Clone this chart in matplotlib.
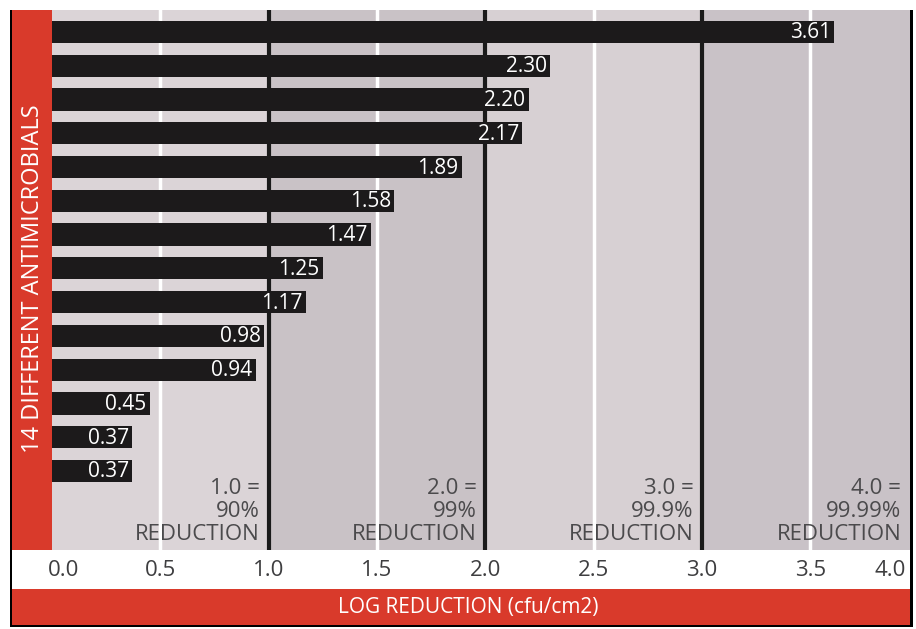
import matplotlib
matplotlib.use("Agg")
import matplotlib.pyplot as plt
from matplotlib.patches import Rectangle
import matplotlib.transforms as mtransforms

plt.rcParams["font.family"] = ["Open Sans", "DejaVu Sans"]

values = [3.61, 2.30, 2.20, 2.17, 1.89, 1.58, 1.47, 1.25, 1.17, 0.98, 0.94, 0.45, 0.37, 0.37]
ticks = [0.0, 0.5, 1.0, 1.5, 2.0, 2.5, 3.0, 3.5, 4.0]
notes = ["1.0 =\n90%\nREDUCTION", "2.0 =\n99%\nREDUCTION",
         "3.0 =\n99.9%\nREDUCTION", "4.0 =\n99.99%\nREDUCTION"]
note_x = [1.0, 2.0, 3.0, 3.96]

W, H = 916, 629
red = "#d93a2b"
fig = plt.figure(figsize=(W / 100, H / 100), dpi=100)
fig.patch.set_facecolor("white")

def fx(px):
    return px / W

def fy(py):
    return 1 - py / H

# frame pieces
fig.add_artist(Rectangle((fx(10), fy(627)), fx(903), (617) / H, facecolor="black",
                         edgecolor="none", transform=fig.transFigure, zorder=0))
fig.add_artist(Rectangle((fx(12), fy(550)), fx(40), 540 / H, facecolor=red,
                         edgecolor="none", transform=fig.transFigure, zorder=1))
fig.add_artist(Rectangle((fx(12), fy(589)), fx(898), 39 / H, facecolor="white",
                         edgecolor="none", transform=fig.transFigure, zorder=1))
fig.add_artist(Rectangle((fx(12), fy(625)), fx(898), 36 / H, facecolor=red,
                         edgecolor="none", transform=fig.transFigure, zorder=1))

ax = fig.add_axes([fx(52), fy(550), fx(858), 540 / H])
ax.set_zorder(2)
xmax = 3.96
ax.set_xlim(0, xmax)
n = len(values)
ax.set_ylim(n + 1.34, -0.65)

# shaded bands
band_cols = ["#dbd4d7", "#c9c2c6", "#d7d0d3", "#c9c2c7"]
for i, c in enumerate(band_cols):
    ax.axvspan(i, i + 1, color=c, lw=0, zorder=0)
for t in [0.5, 1.5, 2.5, 3.5]:
    ax.axvline(t, color="white", lw=2.5, zorder=1)
for t in [1.0, 2.0, 3.0]:
    ax.axvline(t, color="#1a1a1a", lw=3, zorder=1)

ypos = list(range(n))
ax.barh(ypos, values, height=0.66, color="#1c1a1b", zorder=3)
for y, v in zip(ypos, values):
    ax.text(v - 0.015, y + 0.03, f"{v:.2f}", ha="right", va="center",
            color="white", fontsize=15, zorder=4)

ntrans = mtransforms.blended_transform_factory(ax.transData, ax.transAxes)
for x, s in zip(note_x, notes):
    ax.text(x - 0.04, 0.018, s, ha="right", va="baseline", color="#4b4a4c",
            fontsize=16, linespacing=1.12, zorder=2, transform=ntrans)

ax.set_xticks([])
ax.set_yticks([])
for sp in ax.spines.values():
    sp.set_visible(False)

trans = mtransforms.blended_transform_factory(ax.transData, fig.transFigure)
for t in ticks:
    if t == 0.0:
        ax.text(-0.02, fy(570), f"{t:.1f}", ha="left", va="center", transform=trans,
                color="#3e3e40", fontsize=16, clip_on=False)
    elif t > xmax:
        ax.text(xmax - 0.02, fy(570), f"{t:.1f}", ha="right", va="center",
                transform=trans, color="#3e3e40", fontsize=16, clip_on=False)
    else:
        ax.text(t, fy(570), f"{t:.1f}", ha="center", va="center", transform=trans,
                color="#3e3e40", fontsize=16, clip_on=False)

fig.text(fx(468), fy(607), "LOG REDUCTION (cfu/cm2)", ha="center", va="center",
         color="white", fontsize=15, zorder=3)
fig.text(fx(33), fy(279), "14 DIFFERENT ANTIMICROBIALS", ha="center", va="center",
         rotation=90, color="white", fontsize=17, zorder=3)

fig.savefig("out.png", dpi=100)
